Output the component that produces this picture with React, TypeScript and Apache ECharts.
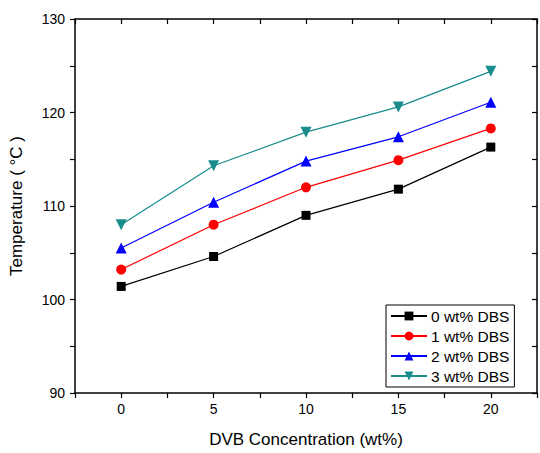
import React, { useEffect, useRef } from "react";
import * as echarts from "echarts";

const concentrations = [0, 5, 10, 15, 20];
const seriesNames = ["0 wt% DBS", "1 wt% DBS", "2 wt% DBS", "3 wt% DBS"];
const dbs0 = [101.4, 104.6, 109.0, 111.8, 116.3];
const dbs1 = [103.2, 108.0, 112.0, 114.9, 118.3];
const dbs2 = [105.5, 110.4, 114.8, 117.4, 121.1];
const dbs3 = [108.0, 114.3, 117.9, 120.6, 124.4];
const colors = ["#000000", "#ff0000", "#0000ff", "#1a8c8c"];
const symbols = ["rect", "circle", "triangle", "path://M0,0 L10,0 L5,9 Z"];
const symbolSizes = [9, 10, 11, 11];

const FONT = "Liberation Sans, Arial, sans-serif";

export default function App() {
  const ref = useRef<HTMLDivElement>(null);
  useEffect(() => {
    if (!ref.current) return;
    document.body.style.margin = "0";
    const chart = echarts.init(ref.current, undefined, { renderer: "svg" });
    const allData = [dbs0, dbs1, dbs2, dbs3];
    const axisLine = { show: true, onZero: false, lineStyle: { color: "#000", width: 1.5 } };
    chart.setOption({
      animation: false,
      backgroundColor: "#fff",
      textStyle: { fontFamily: FONT },
      grid: { left: 75, right: 2, top: 19, bottom: 59, containLabel: false },
      legend: {
        orient: "vertical",
        left: 386,
        top: 305,
        itemWidth: 36,
        itemHeight: 11,
        itemGap: 4,
        padding: [3, 5, 3, 4],
        borderColor: "#000",
        borderWidth: 1,
        backgroundColor: "#fff",
        textStyle: { fontFamily: FONT, fontSize: 15.5, color: "#000", padding: [0, 0, 0, -1] },
        data: seriesNames,
      },
      xAxis: [
        {
          type: "value",
          min: -2.5,
          max: 22.5,
          interval: 2.5,
          name: "DVB Concentration (wt%)",
          nameLocation: "middle",
          nameGap: 38,
          nameTextStyle: { fontFamily: FONT, fontSize: 17, color: "#000" },
          axisLine,
          axisTick: { show: true, inside: false, length: 5, lineStyle: { color: "#000", width: 1.2 } },
          axisLabel: {
            fontFamily: FONT,
            fontSize: 14,
            color: "#000",
            margin: 9,
            formatter: (v: number) => (v >= 0 && v % 5 === 0 ? String(v) : ""),
          },
          splitLine: { show: false },
        },
        {
          type: "value",
          position: "top",
          min: -2.5,
          max: 22.5,
          interval: 2.5,
          axisLine,
          axisTick: { show: true, inside: true, length: 5, lineStyle: { color: "#000", width: 1.2 } },
          axisLabel: { show: false },
          splitLine: { show: false },
        },
      ],
      yAxis: [
        {
          type: "value",
          min: 90,
          max: 130,
          interval: 5,
          name: "Temperature ( °C )",
          nameLocation: "middle",
          nameGap: 50,
          nameTextStyle: { fontFamily: FONT, fontSize: 17, color: "#000" },
          axisLine,
          axisTick: { show: true, inside: false, length: 5, lineStyle: { color: "#000", width: 1.2 } },
          axisLabel: {
            fontFamily: FONT,
            fontSize: 14,
            color: "#000",
            margin: 10,
            formatter: (v: number) => (v % 10 === 0 ? String(v) : ""),
          },
          splitLine: { show: false },
        },
        {
          type: "value",
          position: "right",
          min: 90,
          max: 130,
          interval: 5,
          axisLine,
          axisTick: { show: true, inside: true, length: 5, lineStyle: { color: "#000", width: 1.2 } },
          axisLabel: { show: false },
          splitLine: { show: false },
        },
      ],
      series: allData.map((d, i) => ({
        name: seriesNames[i],
        type: "line",
        xAxisIndex: 0,
        yAxisIndex: 0,
        data: concentrations.map((c, j) => [c, d[j]]),
        symbol: symbols[i],
        symbolSize: symbolSizes[i],
        showAllSymbol: true,
        color: colors[i],
        lineStyle: { color: colors[i], width: 1.2 },
        itemStyle: { color: colors[i] },
        z: 2 + i,
      })),
    });
    return () => chart.dispose();
  }, []);
  return <div ref={ref} style={{ width: 540, height: 453 }} />;
}
